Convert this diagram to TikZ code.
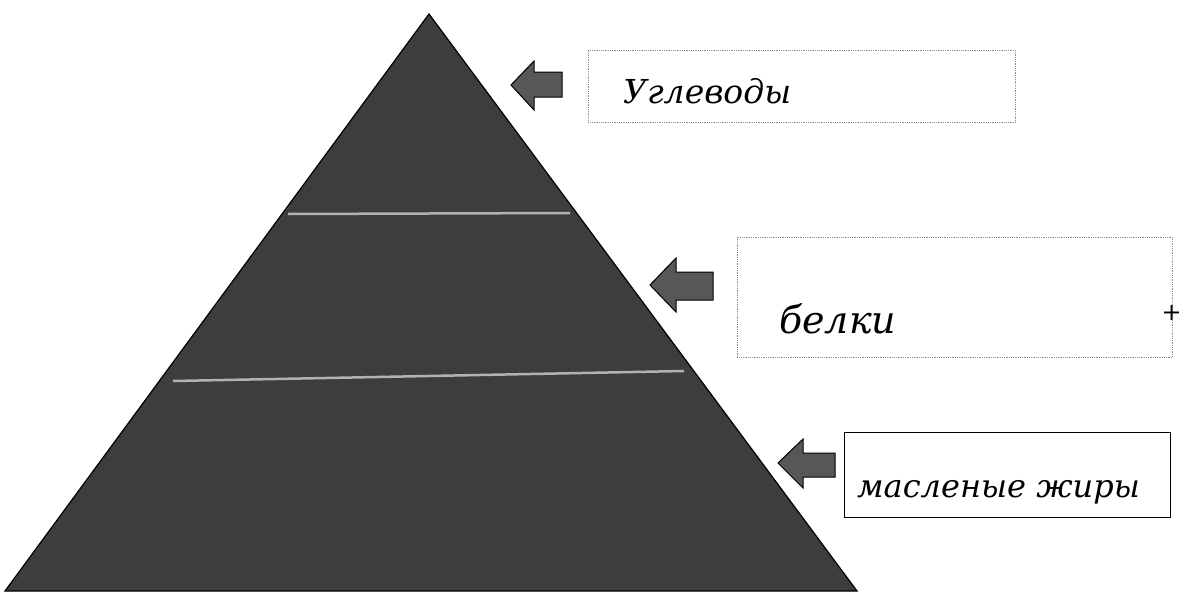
\documentclass[tikz,border=0pt]{standalone}
\usepackage{fontspec}
\setmainfont{DejaVu Serif}
\newfontfamily\hand{DejaVu Serif}
\begin{document}
\begin{tikzpicture}[x=1pt,y=-1pt,
  pyr/.style={fill=black!76,draw=black,line width=1.2pt},
  sep/.style={draw=black!30,line width=2.5pt},
  larrow/.style={fill=black!66,draw=black,line width=1pt},
  dotbox/.style={draw=black!45,densely dotted,line width=0.8pt,minimum width=427pt,minimum height=72pt,anchor=north west,inner sep=0pt},
  solidbox/.style={draw=black,line width=1.2pt,minimum width=326pt,minimum height=85pt,anchor=north west,inner sep=0pt},
  lbl/.style={font=\hand\itshape,anchor=base west,inner sep=0pt}]
\useasboundingbox (0,0) rectangle (1184,597);
% pyramid
\coordinate (apex) at (429,14);
\coordinate (bl) at (5,591);
\coordinate (br) at (857,591);
\draw[pyr] (apex) -- (br) -- (bl) -- cycle;
\coordinate (s1a) at (288,214);
\coordinate (s1b) at (570,213);
\coordinate (s2a) at (173,381);
\coordinate (s2b) at (684,371);
\draw[sep] (s1a) -- (s1b);
\draw[sep] (s2a) -- (s2b);
% arrows
\draw[larrow] (511,85) -- (534,61) -- (534,72) -- (562,72) -- (562,97) -- (534,97) -- (534,110) -- cycle;
\draw[larrow] (650,285) -- (676,258) -- (676,272) -- (713,272) -- (713,300) -- (676,300) -- (676,312) -- cycle;
\draw[larrow] (778,463) -- (803,439) -- (803,453) -- (835,453) -- (835,477) -- (803,477) -- (803,488) -- cycle;
% boxes
\node[dotbox] (b1) at (588,50) {};
\node[dotbox,minimum width=435pt,minimum height=120pt] (b2) at (737,237) {};
\node[solidbox] (b3) at (844,432) {};
% labels
\node[lbl,font=\hand\itshape\fontsize{33}{37}\selectfont] (t1) at (623,103) {Углеводы};
\node[lbl,font=\hand\itshape\fontsize{38}{42}\selectfont] (t2) at (779,333) {белки};
\node[lbl,font=\hand\itshape\fontsize{32}{36}\selectfont] (t3) at (857,497) {масленые жиры};
\node[inner sep=0pt,anchor=east,font=\fontsize{24}{26}\selectfont] (plus) at (1182,313) {+};
\end{tikzpicture}
\end{document}
